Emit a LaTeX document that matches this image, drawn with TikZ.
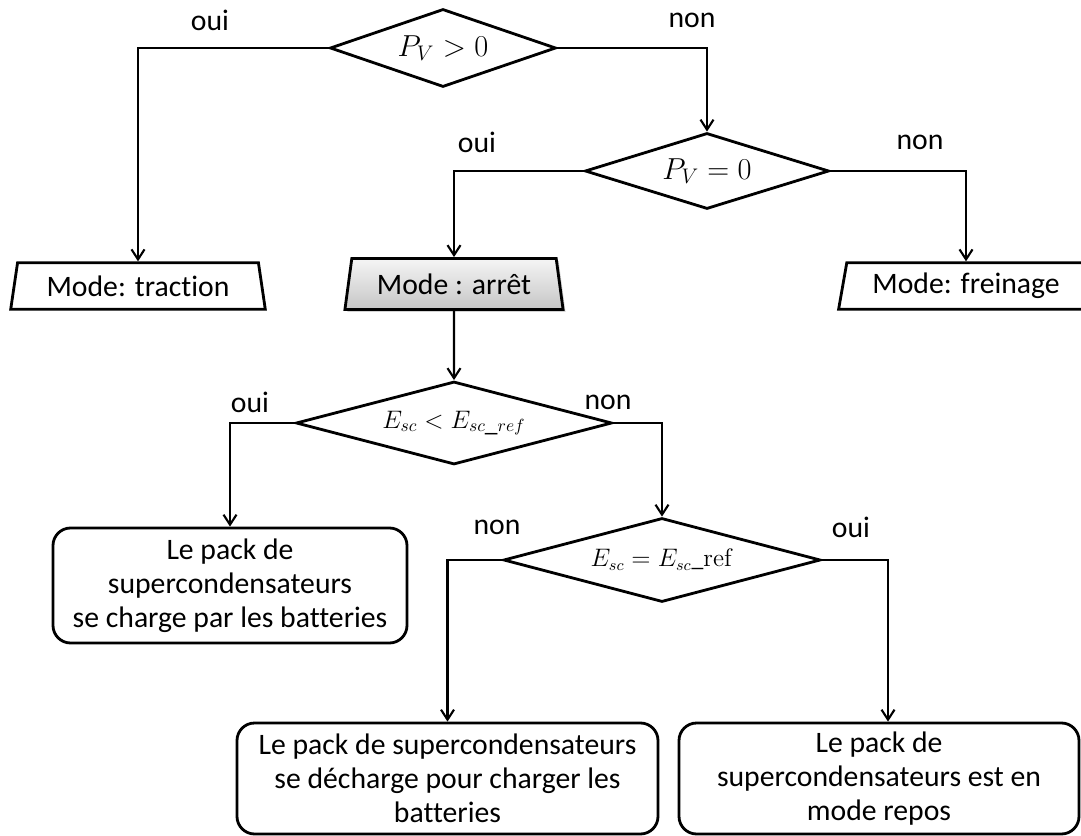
\documentclass[tikz,border=0pt]{standalone}
\usepackage[no-math]{fontspec}
\setmainfont[Ligatures=NoCommon]{Carlito}
\usetikzlibrary{shapes.geometric,arrows.meta,shadows}

\begin{document}
\begin{tikzpicture}[font=\fontsize{16.9}{19.3}\selectfont,
  test/.style={draw,shape=diamond,aspect=3,inner sep=0pt,line width=1.6pt},
  mode/.style={draw,trapezium,trapezium left angle=76,trapezium right angle=76,
               trapezium stretches=true,inner sep=0pt,line width=1.6pt,
               minimum width=5.1cm,minimum height=0.93cm},
  act/.style={draw,rectangle,rounded corners=10pt,align=center,inner sep=0pt,
              line width=1.6pt,minimum height=2.22cm},
  lbl/.style={inner sep=0pt},
  arrw/.style={-{Straight Barb[length=2mm,width=2.6mm]},line width=1.2pt}]

\useasboundingbox (0,0) rectangle (21.62,-16.72);

% tests
\node[test,minimum width=4.52cm,minimum height=1.56cm] (pv1) at (8.86,-0.96) {$P_V > 0$};
\node[test,minimum width=4.88cm,minimum height=1.52cm] (pv2) at (14.14,-3.42) {$P_V = 0$};
\node[test,minimum width=6.32cm,minimum height=1.66cm,font=\fontsize{14.5}{16}\selectfont]
  (esc1) at (9.08,-8.46) {$E_{sc} < E_{sc\_ref}$};
\node[test,minimum width=6.34cm,minimum height=1.68cm,font=\fontsize{13.5}{15}\selectfont]
  (esc2) at (13.24,-11.2) {$E_{sc} = E_{sc}\_\mathrm{ref}$};

% modes
\node[mode] (trac) at (2.76,-5.72) {Mode: traction};
\node[mode,minimum width=4.4cm,minimum height=1.02cm,top color=gray!8,bottom color=gray!45,
      drop shadow={opacity=0.35,shadow xshift=0.5mm,shadow yshift=-0.5mm}]
  (arret) at (9.08,-5.68) {Mode : arrêt};
\node[mode] (frein) at (19.32,-5.72) {Mode: freinage};

% actions
\node[act,minimum width=7.08cm,minimum height=2.3cm] (charge) at (4.6,-11.71)
  {Le pack de\\ supercondensateurs\\ se charge par les batteries};
\node[act,minimum width=8.42cm] (decharge) at (8.95,-15.57)
  {Le pack de supercondensateurs\\ se décharge pour charger les\\ batteries};
\node[act,minimum width=8.0cm] (repos) at (17.58,-15.57)
  {Le pack de\\ supercondensateurs est en\\ mode repos};

% oui / non
\node[lbl] (o1) at (4.2,-0.4) {oui};
\node[lbl] (n1) at (13.84,-0.4) {non};
\node[lbl] (o2) at (9.54,-2.84) {oui};
\node[lbl] (n2) at (18.4,-2.84) {non};
\node[lbl] (o3) at (5.0,-8.04) {oui};
\node[lbl] (n3) at (12.16,-8.04) {non};
\node[lbl] (n4) at (9.94,-10.54) {non};
\node[lbl] (o4) at (17.02,-10.54) {oui};

\draw[arrw] (pv1.west) -| (trac.north);
\draw[arrw] (pv1.east) -| (pv2.north);
\draw[arrw] (pv2.west) -| (arret.north);
\draw[arrw] (pv2.east) -| (frein.north);
\draw[arrw] (arret.south) -- (esc1.north);
\draw[arrw] (esc1.west) -| (charge.north);
\draw[arrw] (esc1.east) -| (esc2.north);
\draw[arrw] (esc2.west) -| (decharge.north);
\draw[arrw] (esc2.east) -| (repos.81);
\end{tikzpicture}
\end{document}
